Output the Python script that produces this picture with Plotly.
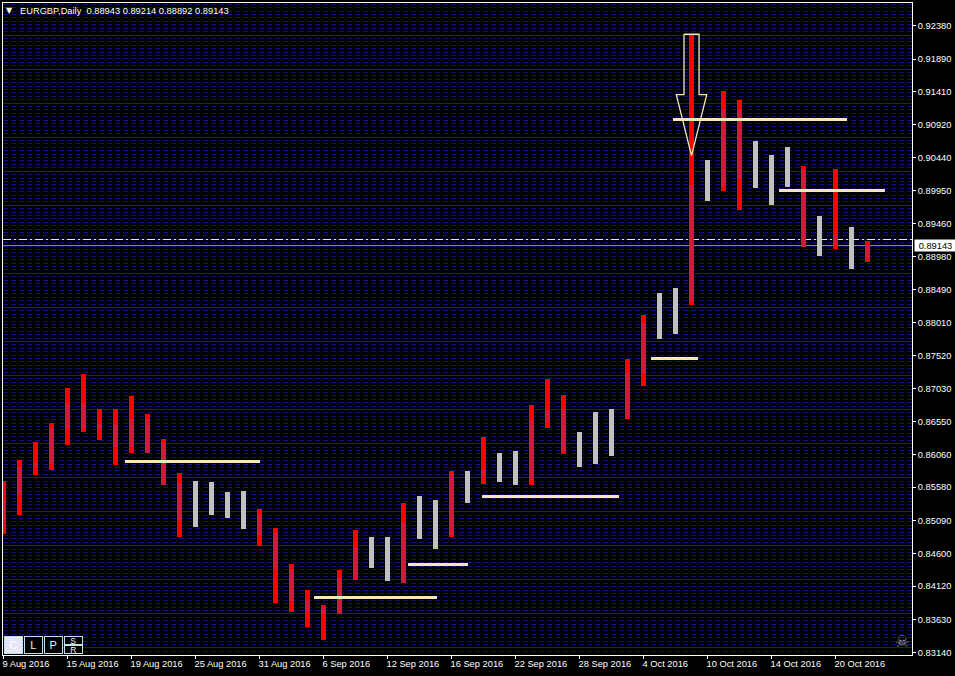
import plotly.graph_objects as go

# --- data ---
highs = [.85669,.85979,.86245,.8652,.87041,.87248,.86727,.86727,.86923,.86658,.86289,.85787,.85669,.85655,.85507,.85522,.85256,.84976,.84445,.84062,.83841,.84357,.84947,.84843,.84843,.85345,.85448,.85389,.85817,.85817,.86318,.86082,.86112,.8679,.87174,.86938,.86392,.86687,.86731,.87469,.88118,.88442,.88516,.92248,.90404,.91422,.91289,.90684,.90478,.90596,.90315,.89578,.90271,.89416,.89214]
lows = [.84888,.85168,.85758,.85832,.862,.86392,.86274,.85905,.86082,.86082,.8561,.84843,.84991,.85168,.85124,.84962,.84711,.8387,.83737,.83516,.83324,.83708,.84209,.84386,.84195,.84165,.84814,.84667,.84843,.85345,.85625,.85655,.8561,.8561,.86451,.86068,.85876,.8592,.86038,.86584,.87071,.87764,.87838,.88265,.89799,.89947,.89666,.89991,.8974,.90006,.89121,.88988,.89091,.88796,.88892]
opens = [.85094,.85463,.8588,.8592,.86436,.86436,.86436,.86166,.86166,.86082,.8561,.85094,.85669,.85655,.85507,.85522,.84873,.84367,.839,.83752,.83708,.83708,.84209,.84843,.84843,.84165,.85448,.85389,.84877,.85817,.85724,.86082,.86112,.85684,.86544,.86102,.86392,.86687,.86731,.86584,.87258,.88442,.88516,.88329,.90404,.90025,.90124,.90684,.90478,.90596,.89121,.89578,.8915,.89416,.88943]
closes = [.85389,.85876,.85939,.86447,.86815,.86815,.8651,.8651,.8658,.8658,.86226,.85636,.84991,.85168,.85124,.84962,.85168,.84898,.84367,.83914,.83811,.84239,.84677,.84386,.84195,.85046,.84814,.84667,.85783,.85345,.85832,.85655,.8561,.86569,.86717,.86727,.85876,.8592,.86038,.87258,.87995,.87764,.87838,.90035,.89799,.91141,.91141,.89991,.8974,.90006,.90256,.88988,.89298,.88796,.89143]

date_ticks = [0, 4, 8, 12, 16, 20, 24, 28, 32, 36, 40, 44, 48, 52]
date_labels = ["9 Aug 2016", "15 Aug 2016", "19 Aug 2016", "25 Aug 2016", "31 Aug 2016", "6 Sep 2016",
               "12 Sep 2016", "16 Sep 2016", "22 Sep 2016", "28 Sep 2016", "4 Oct 2016", "10 Oct 2016",
               "14 Oct 2016", "20 Oct 2016"]
price_ticks = [0.92380, 0.91890, 0.91410, 0.90920, 0.90440, 0.89950, 0.89460, 0.88980, 0.88490, 0.88010,
               0.87520, 0.87030, 0.86550, 0.86060, 0.85580, 0.85090, 0.84600, 0.84120, 0.83630, 0.83140]

level_start = [41.84, 48.47, 7.59, 19.41, 25.28, 29.91, 40.47]
level_end = [52.72, 55.09, 16.03, 27.09, 29.03, 38.47, 43.41]
level_price = [.91001, .89954, .85957, .83951, .84438, .85441, .87476]

arrow_x = [42.53, 43.47, 43.47, 43.95, 43.0, 42.05, 42.53, 42.53]
arrow_y = [.92258, .92258, .91367, .91367, .90467, .91367, .91367, .92258]

last_price = 0.89143
upper_line = 0.89231
title_text = "EURGBP,Daily\u00a0\u00a00.88943 0.89214 0.88892 0.89143"

# --- layout constants ---
W, H = 955, 676
L, R, T, B = 3, 912, 3, 655
FONT = "Liberation Sans"
FS = 9.3
RED, CRIMSON, SILVER, CREAM = "#ff0000", "#dc143c", "#c0c0c0", "#f5e6bd"
X_RANGE = [-0.03, 56.78]
Y_RANGE = [0.83103, 0.92719]
BAR_W = 0.36

idx = list(range(len(highs)))
up = [i for i in idx if closes[i] > opens[i]]
down = [i for i in idx if closes[i] <= opens[i]]


def bar(ids, tops, bottoms, color, name):
    return go.Bar(x=ids, y=[tops[i] - bottoms[i] for i in ids], base=[bottoms[i] for i in ids],
                  yaxis="y2", width=BAR_W, marker=dict(color=color, line=dict(width=0)), name=name,
                  hoverinfo="skip", showlegend=False)


fig = go.Figure()
# price lines live on the lower subplot so that the bars cover them
fig.add_trace(go.Scatter(x=X_RANGE, y=[last_price, last_price], mode="lines", hoverinfo="skip",
                         line=dict(color="#778899", width=1), showlegend=False))
fig.add_trace(go.Scatter(x=X_RANGE, y=[upper_line, upper_line], mode="lines", hoverinfo="skip",
                         line=dict(color="#d5ecec", width=1, dash="8px,3px,2px,3px"), showlegend=False))

fig.add_trace(bar(up, highs, lows, RED, "range up"))
fig.add_trace(bar(down, highs, lows, SILVER, "range down"))
fig.add_trace(bar(up, closes, opens, CRIMSON, "body up"))

level_x, level_y = [], []
for a, b, p in zip(level_start, level_end, level_price):
    level_x += [a, b, None]
    level_y += [p, p, None]
fig.add_trace(go.Scatter(x=level_x, y=level_y, yaxis="y2", mode="lines", hoverinfo="skip",
                         line=dict(color=CREAM, width=3), showlegend=False))
fig.add_trace(go.Scatter(x=arrow_x, y=arrow_y, yaxis="y2", mode="lines", hoverinfo="skip",
                         line=dict(color=CREAM, width=1.3), showlegend=False))


def px(x):
    return (x - L) / (R - L)


def py(y):
    return (B - y) / (B - T)


annotations = [
    dict(xref="paper", yref="y", x=1, y=last_price, xanchor="left", yanchor="middle", xshift=2,
         text=f"{last_price:.5f}", showarrow=False, bgcolor="#ffffff", width=41, height=11, borderpad=0,
         font=dict(family=FONT, size=FS, color="#000000")),
    dict(xref="paper", yref="paper", x=px(18), y=py(11), xanchor="left", yanchor="middle", text=title_text,
         showarrow=False, font=dict(family=FONT, size=FS, color="#ffffff")),
    dict(xref="paper", yref="paper", x=px(9.5), y=py(10.5), xanchor="center", yanchor="middle", text="▼",
         showarrow=False, font=dict(family="DejaVu Sans", size=8, color="#ffffff")),
    dict(xref="paper", yref="paper", x=px(901.5), y=py(641), xanchor="center", yanchor="middle", text="☠",
         showarrow=False, font=dict(family="DejaVu Sans", size=16, color="#8a8a8a")),
]
for text, x0, x1, y0, y1, bg, fg, size in [
    ("C", 3.5, 22.5, 636, 654, "#e6e6fa", "#ffffff", 11),
    ("L", 24, 42.5, 636, 654, "#000000", "#f2f2f2", 11),
    ("P", 44, 62.5, 636, 654, "#000000", "#f2f2f2", 11),
    ("S", 64, 82.5, 636, 645, "#000000", "#f2f2f2", 8.5),
    ("R", 64, 82.5, 645, 654, "#000000", "#f2f2f2", 8.5),
]:
    annotations.append(dict(xref="paper", yref="paper", x=px((x0 + x1) / 2), y=py((y0 + y1) / 2),
                            xanchor="center", yanchor="middle", text=text, showarrow=False, bgcolor=bg,
                            bordercolor="#bfe3ea", borderwidth=1, borderpad=0, width=x1 - x0 - 2,
                            height=y1 - y0 - 2, font=dict(family=FONT, size=size, color=fg)))

fig.update_layout(
    width=W, height=H, margin=dict(l=L, r=W - R, t=T, b=H - B, pad=0, autoexpand=False),
    paper_bgcolor="#000000", plot_bgcolor="#000000", barmode="overlay", bargap=0, showlegend=False,
    font=dict(family=FONT, size=FS, color="#ffffff"),
    xaxis=dict(range=X_RANGE, tickmode="array", tickvals=date_ticks, ticktext=date_labels, showgrid=False,
               zeroline=False, showline=True, linecolor="#ffffff", linewidth=1, mirror=True, ticks="outside",
               ticklen=3, tickcolor="#ffffff", tickwidth=1, ticklabelposition="outside right",
               tickangle=0, ticklabeloverflow="allow", ticklabelshift=-2),
    yaxis=dict(range=Y_RANGE, side="right", tickmode="array", tickvals=price_ticks,
               ticktext=[f"{p:.5f}" for p in price_ticks], showgrid=False, zeroline=False, showline=True,
               linecolor="#ffffff", linewidth=1, mirror=True, ticks="outside", ticklen=3, tickcolor="#ffffff",
               tickwidth=1, ticklabeloverflow="allow"),
    yaxis2=dict(range=Y_RANGE, overlaying="y", side="right", showticklabels=False, ticks="", zeroline=False,
                showline=False, showgrid=True, gridcolor="#1a1a88", gridwidth=1, griddash="solid",
                tick0=0.92247, dtick=0.005022,
                minor=dict(tick0=0.92247, dtick=0.0005022, showgrid=True, gridcolor="#10107c", gridwidth=1,
                           griddash="5px,3px", ticks="")),
    annotations=annotations,
)

fig.write_html("out.html", config=dict(displayModeBar=False),
               post_script="document.body.style.margin='0';document.body.style.background='#000';"
                           "document.body.style.overflow='hidden';")
